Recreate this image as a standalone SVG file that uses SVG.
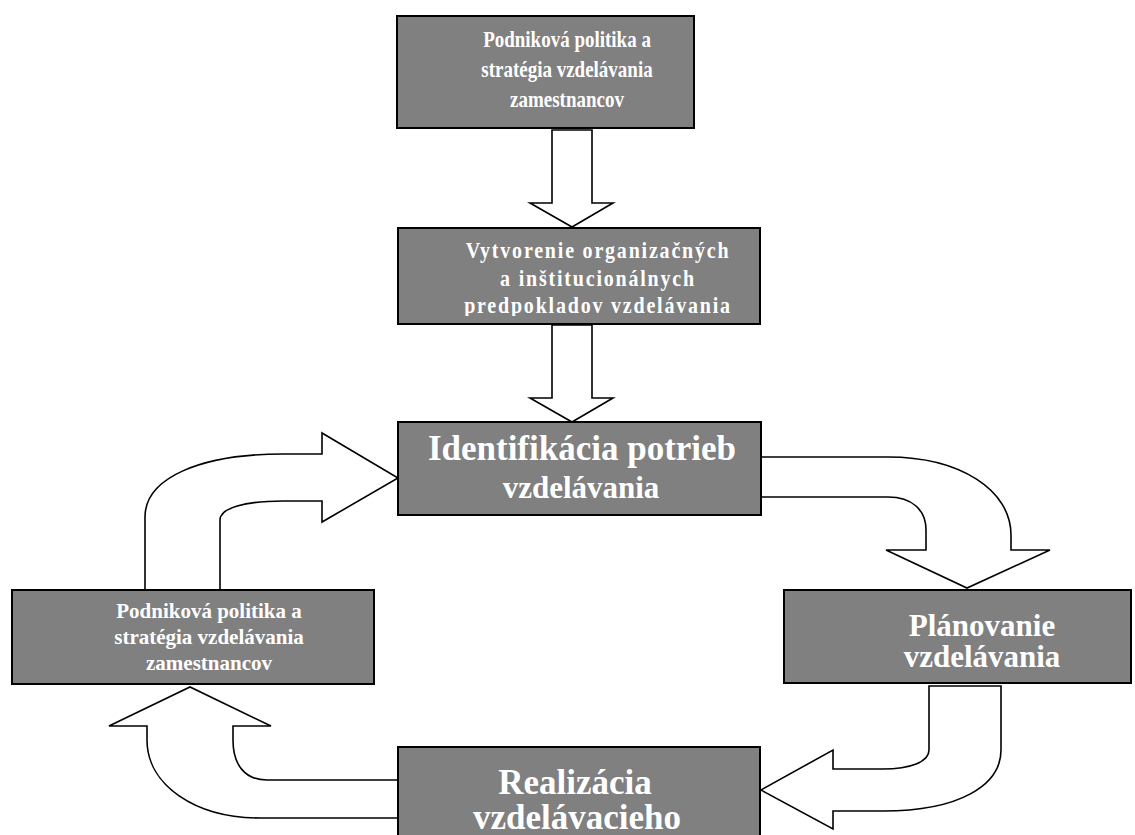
<svg xmlns="http://www.w3.org/2000/svg" width="1135" height="835" viewBox="0 0 1135 835">
<style>
.box{fill:#808080;stroke:#000;stroke-width:2}
.arr{fill:#fff;stroke:#000;stroke-width:1.6;stroke-linejoin:miter}
.t{fill:#fff;font-family:"Liberation Serif","Times New Roman",serif;font-weight:bold;text-anchor:middle}
.s{font-size:19px}
.s2{font-size:20px;letter-spacing:1.8px}
.m{font-size:21px}
.l{font-size:31px}
.xl{font-size:35px}
</style>
<defs>
<clipPath id="c2"><rect x="398" y="228" width="362" height="88"/></clipPath>
</defs>
<rect width="1135" height="835" fill="#fff"/>
<g id="connectors">
<path class="arr" d="M552,130 H592 V203 H613 L572,227 L530,203 H552 Z"/>
<path class="arr" d="M552,325 H592 V398 H613 L572,422 L530,398 H552 Z"/>
<path class="arr" d="M145,590 V517 C145,478 200,454 283,454 H322 V433 L398,478 L322,522 V501 H283 C245,501 220,508 220,520 V590 Z"/>
<path class="arr" d="M761,457 H888 C960,457 1011,490 1011,535 V550 H1050 L967,588 L886,550 H926 V530 C926,510 912,497 888,497 H761 Z"/>
<path class="arr" d="M929,686 V750 C929,762 910,769 883,769 H833 V750 L761,790 L833,829 V811 H883 C960,811 1001,785 1001,750 V686 Z"/>
<path class="arr" d="M398,780 H267 C245,780 233,765 233,740 V726 H271 L190,687 L109,726 H147 V740 C147,785 195,818 260,818 H398 Z"/>
</g>
<g id="node-1">
<rect class="box" x="397" y="16" width="297" height="112"/>
<text class="t s" transform="translate(567,47) scale(1,1.2)">Podniková politika a</text>
<text class="t s" transform="translate(567,77) scale(1,1.2)">stratégia vzdelávania</text>
<text class="t s" transform="translate(567,107) scale(1,1.2)">zamestnancov</text>
</g>
<g id="node-2">
<rect class="box" x="398" y="228" width="362" height="96"/>
<g clip-path="url(#c2)">
<text class="t s2" transform="translate(598,258) scale(1,1.12)">Vytvorenie organizačných</text>
<text class="t s2" transform="translate(598,286) scale(1,1.12)">a inštitucionálnych</text>
<text class="t s2" transform="translate(598,313) scale(1,1.12)">predpokladov vzdelávania</text>
</g>
</g>
<g id="node-3">
<rect class="box" x="398" y="422" width="363" height="93"/>
<text class="t xl" x="582" y="460">Identifikácia potrieb</text>
<text class="t l" x="581" y="498">vzdelávania</text>
</g>
<g id="node-4">
<rect class="box" x="784" y="590" width="347" height="93"/>
<text class="t l" x="982" y="636">Plánovanie</text>
<text class="t l" x="982" y="667">vzdelávania</text>
</g>
<g id="node-5">
<rect class="box" x="12" y="590" width="362" height="94"/>
<text class="t m" x="209" y="618">Podniková politika a</text>
<text class="t m" x="209" y="644">stratégia vzdelávania</text>
<text class="t m" x="209" y="670">zamestnancov</text>
</g>
<g id="node-6">
<rect class="box" x="398" y="747" width="362" height="100"/>
<text class="t xl" x="575" y="794">Realizácia</text>
<text class="t xl" x="577" y="829">vzdelávacieho</text>
</g>
</svg>
